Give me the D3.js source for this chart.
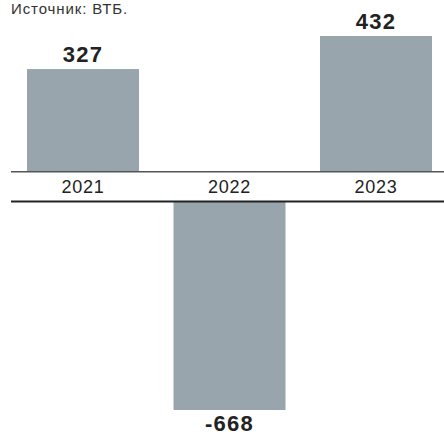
<!DOCTYPE html>
<html><head><meta charset="utf-8">
<script src="https://cdn.jsdelivr.net/npm/d3@7"></script>
<style>html,body{margin:0;padding:0;background:#fff;}svg{display:block;}</style>
</head><body>
<svg id="chart" width="444" height="435"></svg>
<script>
const categories = ["2021", "2022", "2023"];
const values = [327, -668, 432];
const sourceText = "Источник: ВТБ.";

const svg = d3.select("#chart");
const W = 444;
const font = "'Liberation Sans', Arial, sans-serif";
const barColor = "#98a5ac";

const x = d3.scaleBand().domain(categories).range([27, 432]).paddingInner(0.2355).paddingOuter(0);
const yPos = d3.scaleLinear().domain([0, 432]).range([172, 36]);
const yNeg = d3.scaleLinear().domain([0, -668]).range([202, 410]);

svg.append("text").attr("x", 11).attr("y", 14).attr("font-family", font)
  .attr("font-size", 15).attr("letter-spacing", 0.9).attr("fill", "#333").text(sourceText);

svg.selectAll("rect.bar").data(values).join("rect")
  .attr("class", "bar")
  .attr("x", (d, i) => x(categories[i]))
  .attr("width", x.bandwidth())
  .attr("y", d => d >= 0 ? yPos(d) : yNeg(0))
  .attr("height", d => d >= 0 ? yPos(0) - yPos(d) : yNeg(d) - yNeg(0))
  .attr("fill", barColor);

svg.append("line").attr("x1", 11).attr("x2", W).attr("y1", 171.8).attr("y2", 171.8)
  .attr("stroke", "#555").attr("stroke-width", 1.5);
svg.append("line").attr("x1", 11).attr("x2", W).attr("y1", 201.5).attr("y2", 201.5)
  .attr("stroke", "#222").attr("stroke-width", 2.2);

svg.selectAll("text.cat").data(categories).join("text")
  .attr("class", "cat")
  .attr("x", d => x(d) + x.bandwidth() / 2)
  .attr("y", 193)
  .attr("text-anchor", "middle").attr("font-family", font)
  .attr("font-size", 18).attr("letter-spacing", 0.7).attr("fill", "#222").text(d => d);

svg.selectAll("text.val").data(values).join("text")
  .attr("class", "val")
  .attr("x", (d, i) => x(categories[i]) + x.bandwidth() / 2)
  .attr("y", d => d >= 0 ? yPos(d) - 7 : yNeg(d) + 21)
  .attr("text-anchor", "middle").attr("font-family", font)
  .attr("font-size", 22).attr("font-weight", "bold").attr("letter-spacing", 1.2).attr("fill", "#222")
  .text(d => d);
</script>
</body></html>
